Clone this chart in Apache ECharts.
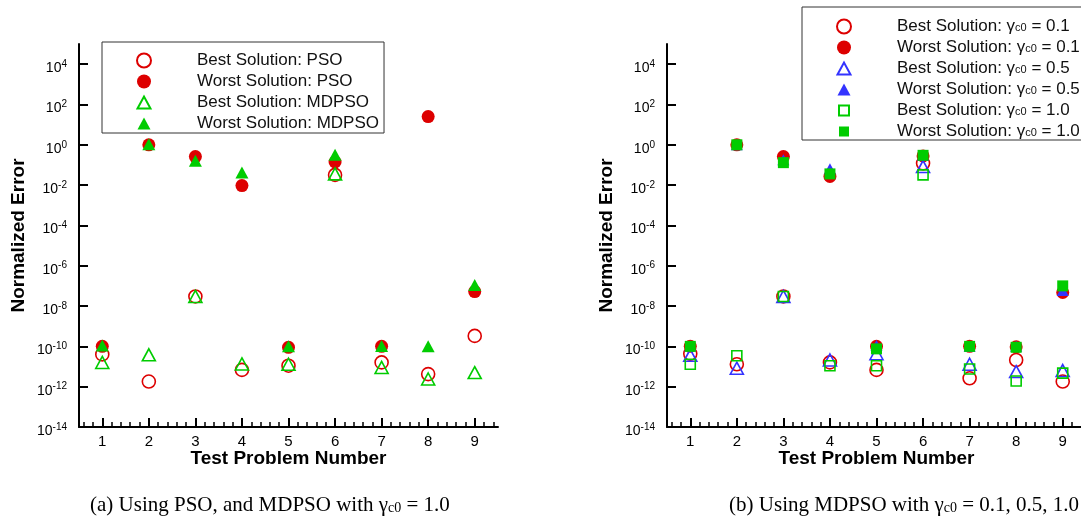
<!DOCTYPE html>
<html>
<head>
<meta charset="utf-8">
<script src="https://cdn.jsdelivr.net/npm/echarts@6/dist/echarts.min.js"></script>
<style>
html,body{margin:0;padding:0;background:#fff;}
#chart{width:1081px;height:520px;}
</style>
</head>
<body>
<div id="chart"></div>
<script>
// ---------- data ----------
const problems = [1, 2, 3, 4, 5, 6, 7, 8, 9];
const yTickValues = [1e-14, 1e-12, 1e-10, 1e-8, 1e-6, 1e-4, 1e-2, 1, 1e2, 1e4];

// (a) PSO vs MDPSO (gamma_c0 = 1.0)
const psoBest   = [4e-11, 1.8e-12, 3e-8, 6.8e-12, 1.1e-11, 0.032, 1.6e-11, 4.2e-12, 3.3e-10];
const psoWorst  = [1e-10, 1.0, 0.26, 0.0095, 9e-11, 0.14, 1e-10, 25, 5.2e-8];
const mdpsoBest = [1.6e-11, 3.8e-11, 3e-8, 1.35e-11, 1.3e-11, 0.036, 9e-12, 2.4e-12, 5e-12];
const mdpsoWorst= [1.1e-10, 1.05, 0.16, 0.042, 1e-10, 0.32, 1.05e-10, 1e-10, 1.1e-7];

// (b) MDPSO with gamma_c0 = 0.1, 0.5, 1.0
const g01Best  = [4.3e-11, 1.3e-11, 3e-8, 1.6e-11, 6.8e-12, 0.12, 2.6e-12, 2.1e-11, 1.8e-12];
const g01Worst = [1e-10, 1.0, 0.26, 0.027, 1e-10, 0.28, 1e-10, 9.5e-11, 4.7e-8];
const g05Best  = [3.6e-11, 8.3e-12, 3e-8, 2.1e-11, 4.3e-11, 0.083, 1.3e-11, 5.6e-12, 6.3e-12];
const g05Worst = [1.05e-10, 1.0, 0.18, 0.064, 1.1e-10, 0.3, 1e-10, 1e-10, 5.9e-8];
const g10Best  = [1.3e-11, 3.4e-11, 3e-8, 1.1e-11, 1.1e-11, 0.032, 7.6e-12, 1.9e-12, 4.7e-12];
const g10Worst = [1e-10, 1.0, 0.13, 0.036, 7.5e-11, 0.3, 1e-10, 9e-11, 1e-7];

const seriesNamesA = ['Best Solution: PSO', 'Worst Solution: PSO', 'Best Solution: MDPSO', 'Worst Solution: MDPSO'];
const seriesNamesB = ['Best Solution: γc0 = 0.1', 'Worst Solution: γc0 = 0.1',
                      'Best Solution: γc0 = 0.5', 'Worst Solution: γc0 = 0.5',
                      'Best Solution: γc0 = 1.0', 'Worst Solution: γc0 = 1.0'];
const captionA = ['(a) Using PSO, and MDPSO with γ', 'c0', ' = 1.0'];
const captionB = ['(b) Using MDPSO with γ', 'c0', ' = 0.1, 0.5, 1.0'];

// ---------- styling ----------
const RED = '#dd0000', GREEN = '#00cc00', BLUE = '#3333ff';
const FONT = 'Liberation Sans';
const ICON_TRI = 'path://M0,0 M14,14 M0.5,13 L7,1 L13.5,13 Z';
const ICON_SQ = 'path://M0,0 M14,14 M2,2 L12,2 L12,12 L2,12 Z';

const minorTicks = [];
for (let k = 3; k <= 47; k++) { if (k % 5 !== 0) minorTicks.push(+(k * 0.2).toFixed(1)); }

function majorX(g) {
  return {
    type: 'value', gridIndex: g, min: 0.5, max: 9.5, position: 'bottom',
    axisLine: { show: true, onZero: false, lineStyle: { color: '#000', width: 2 } },
    axisTick: { show: true, inside: true, length: 9, customValues: problems, lineStyle: { color: '#000', width: 2 } },
    axisLabel: { show: true, customValues: problems, margin: 7, fontSize: 15, color: '#000', fontFamily: FONT },
    splitLine: { show: false },
    name: 'Test Problem Number', nameLocation: 'middle', nameGap: 22, nameMoveOverlap: false,
    nameTextStyle: { fontFamily: FONT, fontWeight: 'bold', fontSize: 19, color: '#000' }
  };
}
function minorX(g) {
  return {
    type: 'value', gridIndex: g, min: 0.5, max: 9.5, position: 'bottom',
    axisLine: { show: false, onZero: false },
    axisTick: { show: true, inside: true, length: 5, customValues: minorTicks, lineStyle: { color: '#000', width: 1.5 } },
    axisLabel: { show: false }, splitLine: { show: false }
  };
}
function makeY(g) {
  return {
    type: 'log', logBase: 10, gridIndex: g, min: 1e-14, max: 1e5,
    axisLine: { show: true, lineStyle: { color: '#000', width: 2 } },
    axisTick: { show: true, inside: true, length: 9, customValues: yTickValues, lineStyle: { color: '#000', width: 2 } },
    minorTick: { show: false },
    axisLabel: {
      show: true, customValues: yTickValues, margin: 12, padding: [6, 0, 0, 0],
      formatter: function (v) { return '{b|10}{s|' + Math.round(Math.log10(v)) + '}'; },
      rich: {
        b: { fontSize: 14, fontFamily: FONT, color: '#000', lineHeight: 16, verticalAlign: 'bottom' },
        s: { fontSize: 10, fontFamily: FONT, color: '#000', lineHeight: 10, verticalAlign: 'top', padding: [0, 0, 4, 0] }
      }
    },
    splitLine: { show: false },
    name: 'Normalized Error', nameLocation: 'middle', nameGap: 51, nameRotate: 90, nameMoveOverlap: false,
    nameTextStyle: { fontFamily: FONT, fontWeight: 'bold', fontSize: 19, color: '#000' }
  };
}

function pts(arr) { return problems.map((p, i) => [p, arr[i]]); }

function sc(name, xi, yi, arr, symbol, size, color, filled) {
  return {
    type: 'scatter', name: name, xAxisIndex: xi, yAxisIndex: yi,
    data: pts(arr), symbol: symbol, symbolSize: size,
    itemStyle: filled
      ? { color: color, borderWidth: 0, opacity: 1 }
      : { color: 'rgba(0,0,0,0)', borderColor: color, borderWidth: 1.6, opacity: 1 },
    emphasis: { disabled: true }
  };
}

const legendRich = {
  sp: { width: 41, lineHeight: 14 },
  t: { fontSize: 17, fontFamily: FONT, color: '#111', lineHeight: 14, verticalAlign: 'middle' },
  s: { fontSize: 11, fontFamily: FONT, color: '#111', lineHeight: 10, verticalAlign: 'bottom', padding: [4, 0, 0, 0] }
};
function legendFmt(name) {
  if (name.indexOf('γc0') >= 0) {
    const parts = name.split('γc0');
    return '{sp|}{t|' + parts[0] + 'γ}{s|c0}{t|' + parts[1] + '}';
  }
  return '{sp|}{t|' + name + '}';
}
function legendItems(names, icons) { return names.map((n, i) => ({ name: n, icon: icons[i] })); }

const option = {
  animation: false,
  backgroundColor: '#ffffff',
  grid: [
    { left: 79, top: 44, width: 419, height: 383, outerBoundsMode: 'none', containLabel: false },
    { left: 667, top: 44, width: 419, height: 383, outerBoundsMode: 'none', containLabel: false }
  ],
  xAxis: [majorX(0), minorX(0), majorX(1), minorX(1)],
  yAxis: [makeY(0), makeY(1)],
  legend: [
    {
      show: true, orient: 'vertical', left: 102, top: 42, padding: [10, 5, 1, 34],
      itemGap: 4, itemWidth: 14, itemHeight: 14, borderColor: '#333', borderWidth: 1,
      backgroundColor: '#fff',
      data: legendItems(seriesNamesA, ['circle', 'circle', ICON_TRI, ICON_TRI]),
      formatter: legendFmt, textStyle: { rich: legendRich }, selectedMode: false
    },
    {
      show: true, orient: 'vertical', left: 802, top: 7, padding: [11, 20, 0, 34],
      itemGap: 4, itemWidth: 14, itemHeight: 14, borderColor: '#333', borderWidth: 1,
      backgroundColor: '#fff',
      data: legendItems(seriesNamesB, ['circle', 'circle', ICON_TRI, ICON_TRI, ICON_SQ, ICON_SQ]),
      formatter: legendFmt, textStyle: { rich: legendRich }, selectedMode: false
    }
  ],
  series: [
    sc(seriesNamesA[0], 0, 0, psoBest, 'circle', 13, RED, false),
    sc(seriesNamesA[1], 0, 0, psoWorst, 'circle', 13, RED, true),
    sc(seriesNamesA[2], 0, 0, mdpsoBest, 'triangle', [13, 12], GREEN, false),
    sc(seriesNamesA[3], 0, 0, mdpsoWorst, 'triangle', [13, 12], GREEN, true),

    sc(seriesNamesB[0], 2, 1, g01Best, 'circle', 13, RED, false),
    sc(seriesNamesB[1], 2, 1, g01Worst, 'circle', 13, RED, true),
    sc(seriesNamesB[2], 2, 1, g05Best, 'triangle', [13, 12], BLUE, false),
    sc(seriesNamesB[3], 2, 1, g05Worst, 'triangle', [12, 11], BLUE, true),
    sc(seriesNamesB[4], 2, 1, g10Best, 'rect', 10, GREEN, false),
    sc(seriesNamesB[5], 2, 1, g10Worst, 'rect', 11, GREEN, true)
  ],
  graphic: [
    {
      type: 'text', left: 90, top: 494,
      style: {
        text: '{t|' + captionA[0] + '}{s|' + captionA[1] + '}{t|' + captionA[2] + '}',
        rich: {
          t: { fontFamily: 'Liberation Serif', fontSize: 21, fill: '#000', lineHeight: 20, verticalAlign: 'middle' },
          s: { fontFamily: 'Liberation Serif', fontSize: 14, fill: '#000', lineHeight: 12, verticalAlign: 'bottom', padding: [7, 0, 0, 0] }
        }
      }
    },
    {
      type: 'text', right: 2, top: 494,
      style: {
        text: '{t|' + captionB[0] + '}{s|' + captionB[1] + '}{t|' + captionB[2] + '}',
        rich: {
          t: { fontFamily: 'Liberation Serif', fontSize: 21, fill: '#000', lineHeight: 20, verticalAlign: 'middle' },
          s: { fontFamily: 'Liberation Serif', fontSize: 14, fill: '#000', lineHeight: 12, verticalAlign: 'bottom', padding: [7, 0, 0, 0] }
        }
      }
    }
  ]
};

const chart = echarts.init(document.getElementById('chart'), null, { renderer: 'canvas' });
chart.setOption(option);
</script>
</body>
</html>
